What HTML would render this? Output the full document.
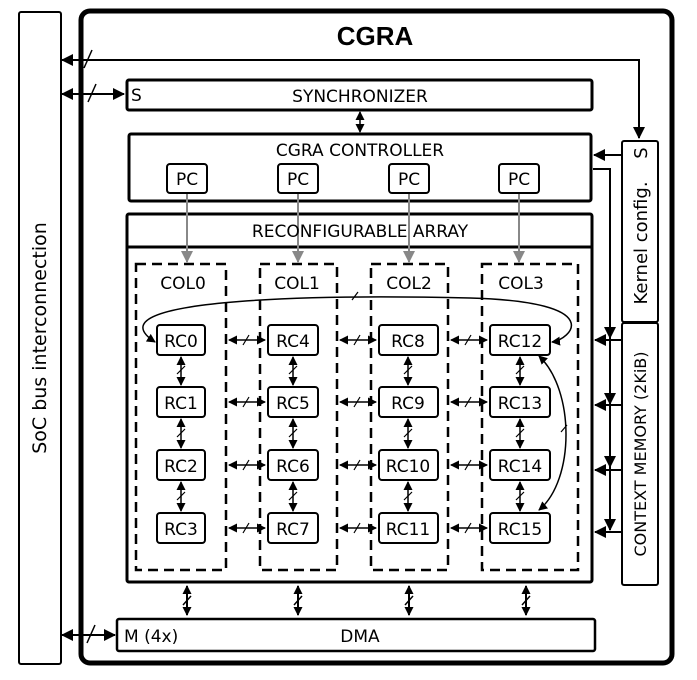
<!DOCTYPE html>
<html><head><style>body{margin:0;background:#fff}svg{display:block;font-family:"DejaVu Sans","Liberation Sans",sans-serif}</style></head><body>
<svg width="697" height="680" viewBox="0 0 697 680">
<defs>
<marker id="a" markerWidth="9" markerHeight="9" refX="8" refY="4.5" orient="auto-start-reverse" markerUnits="userSpaceOnUse"><path d="M0,0 L9,4.5 L0,9z" fill="#000"/></marker>
<marker id="b" markerWidth="12" markerHeight="12" refX="11" refY="6" orient="auto-start-reverse" markerUnits="userSpaceOnUse"><path d="M0,0 L12,6 L0,12z" fill="#000"/></marker>
<marker id="g" markerWidth="12" markerHeight="12" refX="11" refY="6" orient="auto" markerUnits="userSpaceOnUse"><path d="M0,0 L12,6 L0,12z" fill="#888"/></marker>
</defs>
<g fill="none" stroke="#000">
<rect x="19" y="12" width="42" height="652" rx="2" stroke-width="2"/>
<rect x="81" y="11" width="591" height="652" rx="9" stroke-width="5"/>
<path d="M62 60 H639 V138" stroke-width="2" marker-start="url(#b)" marker-end="url(#b)"/>
<line x1="92" y1="50" x2="84" y2="68" stroke-width="1.5"/>
<rect x="127" y="80" width="465" height="30" rx="2" stroke-width="3"/>
<line x1="62" y1="94" x2="124" y2="94" stroke-width="2" marker-start="url(#b)" marker-end="url(#b)"/>
<line x1="96" y1="84" x2="88" y2="102" stroke-width="1.5"/>
<line x1="360" y1="112" x2="360" y2="132" stroke-width="1.5" marker-start="url(#a)" marker-end="url(#a)"/>
<rect x="129" y="134" width="462" height="67" rx="2" stroke-width="3"/>
<rect x="167" y="164" width="40" height="29" rx="3" stroke-width="2"/>
<rect x="278" y="164" width="40" height="29" rx="3" stroke-width="2"/>
<rect x="389" y="164" width="40" height="29" rx="3" stroke-width="2"/>
<rect x="499" y="164" width="40" height="29" rx="3" stroke-width="2"/>
<rect x="127" y="214" width="465" height="368" rx="2" stroke-width="3"/>
<line x1="127" y1="247" x2="592" y2="247" stroke-width="3"/>
<g stroke="#888" stroke-width="2">
<line x1="187" y1="194" x2="187" y2="262" marker-end="url(#g)"/>
<line x1="298" y1="194" x2="298" y2="262" marker-end="url(#g)"/>
<line x1="409" y1="194" x2="409" y2="262" marker-end="url(#g)"/>
<line x1="519" y1="194" x2="519" y2="262" marker-end="url(#g)"/>
</g>
<g stroke-width="2.5" stroke-dasharray="10,6">
<rect x="136" y="264" width="90" height="306"/>
<rect x="260" y="264" width="77" height="306"/>
<rect x="371" y="264" width="77" height="306"/>
<rect x="482" y="264" width="96" height="306"/>
</g>
<g stroke-width="2">
<rect x="157" y="325" width="48" height="30" rx="3"/><rect x="157" y="387" width="48" height="30" rx="3"/><rect x="157" y="450" width="48" height="30" rx="3"/><rect x="157" y="513" width="48" height="30" rx="3"/>
<rect x="268" y="325" width="50" height="30" rx="3"/><rect x="268" y="387" width="50" height="30" rx="3"/><rect x="268" y="450" width="50" height="30" rx="3"/><rect x="268" y="513" width="50" height="30" rx="3"/>
<rect x="379" y="325" width="59" height="30" rx="3"/><rect x="379" y="387" width="59" height="30" rx="3"/><rect x="379" y="450" width="59" height="30" rx="3"/><rect x="379" y="513" width="59" height="30" rx="3"/>
<rect x="490" y="325" width="60" height="30" rx="3"/><rect x="490" y="387" width="60" height="30" rx="3"/><rect x="490" y="450" width="60" height="30" rx="3"/><rect x="490" y="513" width="60" height="30" rx="3"/>
</g>
<g stroke-width="1.5" marker-start="url(#a)" marker-end="url(#a)">
<line x1="181" y1="357" x2="181" y2="385"/><line x1="181" y1="419" x2="181" y2="448"/><line x1="181" y1="482" x2="181" y2="511"/>
<line x1="293" y1="357" x2="293" y2="385"/><line x1="293" y1="419" x2="293" y2="448"/><line x1="293" y1="482" x2="293" y2="511"/>
<line x1="408" y1="357" x2="408" y2="385"/><line x1="408" y1="419" x2="408" y2="448"/><line x1="408" y1="482" x2="408" y2="511"/>
<line x1="520" y1="357" x2="520" y2="385"/><line x1="520" y1="419" x2="520" y2="448"/><line x1="520" y1="482" x2="520" y2="511"/>
<line x1="229" y1="340" x2="265" y2="340"/><line x1="229" y1="402" x2="265" y2="402"/><line x1="229" y1="465" x2="265" y2="465"/><line x1="229" y1="528" x2="265" y2="528"/>
<line x1="340" y1="340" x2="376" y2="340"/><line x1="340" y1="402" x2="376" y2="402"/><line x1="340" y1="465" x2="376" y2="465"/><line x1="340" y1="528" x2="376" y2="528"/>
<line x1="451" y1="340" x2="487" y2="340"/><line x1="451" y1="402" x2="487" y2="402"/><line x1="451" y1="465" x2="487" y2="465"/><line x1="451" y1="528" x2="487" y2="528"/>
<path d="M155 342 C 90 300, 300 294, 470 298 C 610 302, 570 340, 552 342"/>
<path d="M539 356 C 575 390, 575 480, 539 510"/>
</g>
<path stroke-width="1.2" d="M177 374l8-8M177 437l8-8M177 500l8-8M289 374l8-8M289 437l8-8M289 500l8-8M404 374l8-8M404 437l8-8M404 500l8-8M516 374l8-8M516 437l8-8M516 500l8-8M243 345l6-10M243 407l6-10M243 470l6-10M243 533l6-10M354 345l6-10M354 407l6-10M354 470l6-10M354 533l6-10M465 345l6-10M465 407l6-10M465 470l6-10M465 533l6-10M352 300l6-8M561 432l6-7"/>
<rect x="622" y="141" width="36" height="181" rx="2" stroke-width="2"/>
<rect x="622" y="323" width="36" height="262" rx="2" stroke-width="2"/>
<line x1="622" y1="155" x2="594" y2="155" stroke-width="2" marker-end="url(#b)"/>
<path d="M593 169H610V530" stroke-width="2"/>
<g stroke-width="2">
<line x1="610" y1="330" x2="610" y2="338" marker-end="url(#b)"/>
<line x1="610" y1="395" x2="610" y2="404" marker-end="url(#b)"/>
<line x1="610" y1="458" x2="610" y2="467" marker-end="url(#b)"/>
<line x1="610" y1="520" x2="610" y2="530" marker-end="url(#b)"/>
<line x1="622" y1="340" x2="595" y2="340" marker-end="url(#b)"/>
<line x1="622" y1="405" x2="595" y2="405" marker-end="url(#b)"/>
<line x1="622" y1="470" x2="595" y2="470" marker-end="url(#b)"/>
<line x1="622" y1="532" x2="595" y2="532" marker-end="url(#b)"/>
</g>
<rect x="117" y="619" width="478" height="32" rx="2" stroke-width="2.5"/>
<line x1="62" y1="635" x2="115" y2="635" stroke-width="2" marker-start="url(#b)" marker-end="url(#b)"/>
<line x1="95" y1="625" x2="87" y2="643" stroke-width="1.5"/>
<g stroke-width="2" marker-start="url(#a)" marker-end="url(#a)">
<line x1="187" y1="586" x2="187" y2="615"/><line x1="298" y1="586" x2="298" y2="615"/><line x1="409" y1="586" x2="409" y2="615"/><line x1="526" y1="586" x2="526" y2="615"/>
</g>
<path d="M183 605l8-9M294 605l8-9M405 605l8-9M522 605l8-9" stroke-width="1.5"/>
</g>
<g font-size="17" fill="#000">
<text x="375" y="45" font-size="26" font-weight="bold" text-anchor="middle" font-family="Liberation Sans,sans-serif">CGRA</text>
<text x="131" y="101">S</text>
<text x="360" y="102" text-anchor="middle">SYNCHRONIZER</text>
<text x="360" y="156" text-anchor="middle">CGRA CONTROLLER</text>
<g text-anchor="middle">
<text x="187" y="185">PC</text><text x="298" y="185">PC</text><text x="409" y="185">PC</text><text x="519" y="185">PC</text>
<text x="360" y="237">RECONFIGURABLE  ARRAY</text>
<text x="183" y="289">COL0</text><text x="297" y="289">COL1</text><text x="409" y="289">COL2</text><text x="521" y="289">COL3</text>
<text x="181" y="347">RC0</text><text x="181" y="409">RC1</text><text x="181" y="472">RC2</text><text x="181" y="535">RC3</text>
<text x="293" y="347">RC4</text><text x="293" y="409">RC5</text><text x="293" y="472">RC6</text><text x="293" y="535">RC7</text>
<text x="408" y="347">RC8</text><text x="408" y="409">RC9</text><text x="408" y="472">RC10</text><text x="408" y="535">RC11</text>
<text x="520" y="347">RC12</text><text x="520" y="409">RC13</text><text x="520" y="472">RC14</text><text x="520" y="535">RC15</text>
<text x="360" y="642">DMA</text>
</g>
<text x="124" y="642">M (4x)</text>
<text transform="translate(46,338) rotate(-90)" text-anchor="middle" font-size="19">SoC bus interconnection</text>
<text transform="translate(647,153) rotate(-90)" text-anchor="middle" font-size="18">S</text>
<text transform="translate(647,243) rotate(-90)" text-anchor="middle" font-size="18">Kernel config.</text>
<text transform="translate(646,454) rotate(-90)" text-anchor="middle" font-size="16">CONTEXT MEMORY (2KiB)</text>
</g>
</svg>
</body></html>
